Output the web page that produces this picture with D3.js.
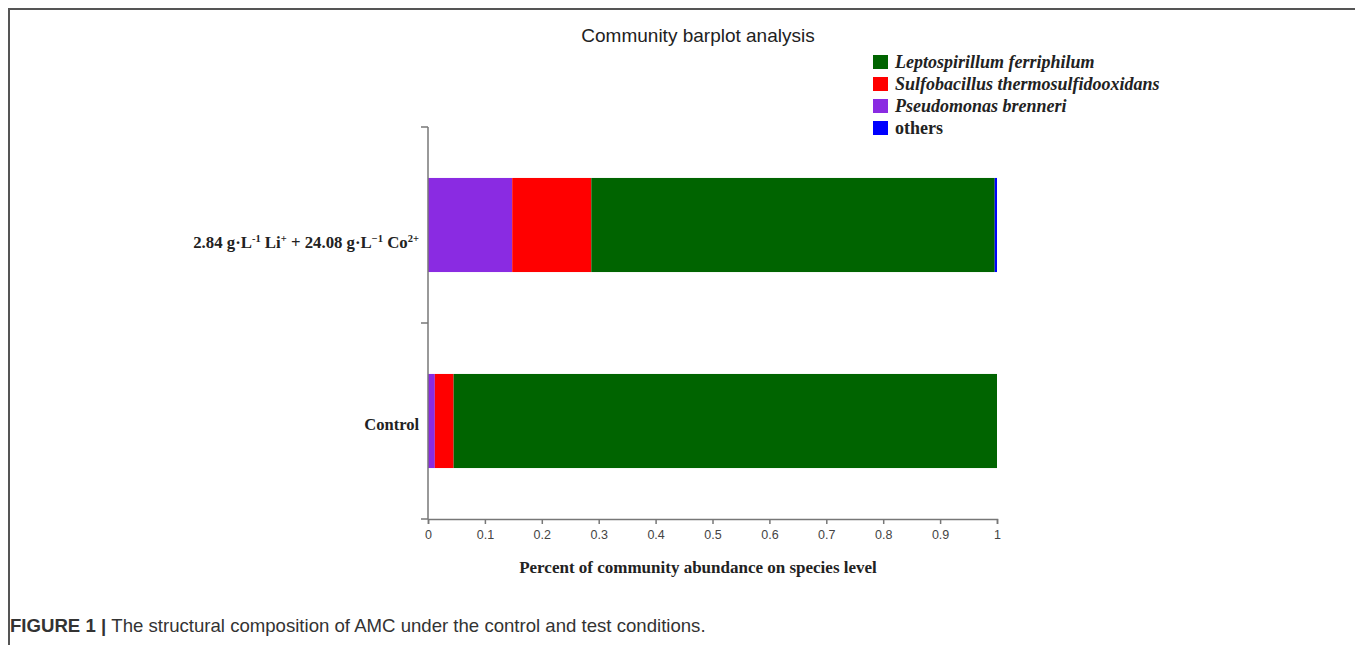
<!DOCTYPE html>
<html>
<head>
<meta charset="utf-8">
<script src="https://cdn.jsdelivr.net/npm/d3@7"></script>
<style>
  html, body { margin: 0; padding: 0; background: #fff; }
  svg { display: block; }
</style>
</head>
<body>
<svg id="chart" width="1355" height="645"></svg>
<script>
// Samples, top to bottom
const samples = ["test", "control"];
// Species, in stacking order from the axis outward
const species = ["Pseudomonas brenneri", "Sulfobacillus thermosulfidooxidans", "Leptospirillum ferriphilum", "others"];
const speciesColors = ["#8a2be2", "#ff0000", "#006400", "#0000ff"];
// Relative abundance per sample, same order as species
const testValues = [0.148, 0.139, 0.709, 0.004];
const controlValues = [0.012, 0.033, 0.955, 0.000];
// Legend order
const legendItems = ["Leptospirillum ferriphilum", "Sulfobacillus thermosulfidooxidans", "Pseudomonas brenneri", "others"];
const xTicks = [0, 0.1, 0.2, 0.3, 0.4, 0.5, 0.6, 0.7, 0.8, 0.9, 1];

const rows = [
  Object.assign({ sample: "test" }, Object.fromEntries(species.map((s, i) => [s, testValues[i]]))),
  Object.assign({ sample: "control" }, Object.fromEntries(species.map((s, i) => [s, controlValues[i]])))
];

const svg = d3.select("#chart");
const color = d3.scaleOrdinal().domain(species).range(speciesColors);

// Figure frame
svg.append("path")
  .attr("d", "M9,645 V9 H1355")
  .attr("fill", "none").attr("stroke", "#555").attr("stroke-width", 2);

const x = d3.scaleLinear().domain([0, 1]).range([428, 997]);
const y = d3.scaleBand().domain(samples).range([127, 519]).paddingInner(0.52).paddingOuter(0.26);

// Title
svg.append("text").attr("x", 698).attr("y", 42).attr("text-anchor", "middle")
  .attr("font-family", "Liberation Sans, Arial, sans-serif").attr("font-size", 19)
  .attr("fill", "#222").text("Community barplot analysis");

// Stacked bars
const stack = d3.stack().keys(species)(rows);
svg.append("g").selectAll("g").data(stack).join("g")
  .attr("fill", d => color(d.key))
  .selectAll("rect").data(d => d).join("rect")
  .attr("x", d => x(d[0]))
  .attr("width", d => Math.max(0, x(d[1]) - x(d[0])))
  .attr("y", d => y(d.data.sample))
  .attr("height", y.bandwidth());

// X axis
const xAxis = svg.append("g").attr("transform", "translate(0,519)")
  .call(d3.axisBottom(x).tickValues(xTicks).tickSize(5).tickPadding(6).tickFormat(d3.format("")));
xAxis.selectAll("path, line").attr("stroke", "#777").attr("stroke-width", 1.5);
xAxis.selectAll("text").attr("font-family", "Liberation Sans, Arial, sans-serif")
  .attr("font-size", 12.5).attr("fill", "#444");

// Y axis: ticks on band boundaries
const yBounds = [127, (y("test") + y.bandwidth() + y("control")) / 2, 519];
const yAxisG = svg.append("g");
yAxisG.append("line").attr("x1", 428).attr("x2", 428).attr("y1", 127).attr("y2", 519)
  .attr("stroke", "#777").attr("stroke-width", 1.5);
yAxisG.selectAll("line.tick").data(yBounds).join("line").attr("class", "tick")
  .attr("x1", 421).attr("x2", 428).attr("y1", d => d).attr("y2", d => d)
  .attr("stroke", "#777").attr("stroke-width", 1.5);

// Category labels
const serif = "Liberation Serif, Times New Roman, serif";
const testLabel = svg.append("text").attr("x", 419).attr("y", y("test") + y.bandwidth() / 2 + 23)
  .attr("text-anchor", "end").attr("font-family", serif).attr("font-weight", "bold")
  .attr("font-size", 16.8).attr("fill", "#222");
const supSize = 10.5;
testLabel.append("tspan").text("2.84 g·L");
testLabel.append("tspan").attr("dy", -6).attr("font-size", supSize).text("-1");
testLabel.append("tspan").attr("dy", 6).text(" Li");
testLabel.append("tspan").attr("dy", -6).attr("font-size", supSize).text("+");
testLabel.append("tspan").attr("dy", 6).text(" + 24.08 g·L");
testLabel.append("tspan").attr("dy", -6).attr("font-size", supSize).text("−1");
testLabel.append("tspan").attr("dy", 6).text(" Co");
testLabel.append("tspan").attr("dy", -6).attr("font-size", supSize).text("2+");

svg.append("text").attr("x", 419).attr("y", y("control") + y.bandwidth() / 2 + 9)
  .attr("text-anchor", "end").attr("font-family", serif).attr("font-weight", "bold")
  .attr("font-size", 16.5).attr("fill", "#222").text("Control");

// X axis title
svg.append("text").attr("x", 698).attr("y", 573).attr("text-anchor", "middle")
  .attr("font-family", serif).attr("font-weight", "bold").attr("font-size", 17)
  .attr("fill", "#222").text("Percent of community abundance on species level");

// Legend
const legend = svg.append("g").selectAll("g").data(legendItems).join("g")
  .attr("transform", (d, i) => `translate(873,${55 + i * 22})`);
legend.append("rect").attr("width", 15).attr("height", 14).attr("fill", d => color(d));
legend.append("text").attr("x", 22).attr("y", 13)
  .attr("font-family", serif).attr("font-weight", "bold")
  .attr("font-style", d => d === "others" ? "normal" : "italic")
  .attr("font-size", 18).attr("fill", "#222").text(d => d);

// Caption
const cap = svg.append("text").attr("x", 10).attr("y", 632)
  .attr("font-family", "Liberation Sans, Arial, sans-serif").attr("font-size", 18.6).attr("fill", "#333");
cap.append("tspan").attr("font-weight", "bold").text("FIGURE 1 | ");
cap.append("tspan").text("The structural composition of AMC under the control and test conditions.");
</script>
</body>
</html>
